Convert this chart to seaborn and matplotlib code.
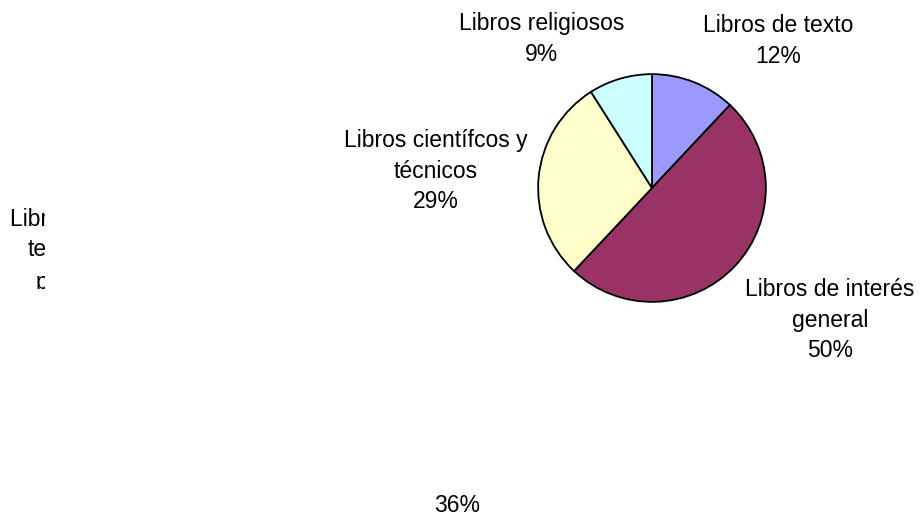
import matplotlib
matplotlib.use("Agg")
import matplotlib.pyplot as plt
import seaborn as sns
from matplotlib.transforms import Bbox, TransformedBbox

# datos del gráfico
categorias = ["Libros de texto", "Libros de interés\ngeneral",
              "Libros científcos y\ntécnicos", "Libros religiosos"]
porcentajes = [12, 50, 29, 9]
colores = ["#9999FF", "#993366", "#FFFFCC", "#CCFFFF"]

# posiciones de las etiquetas (px, origen arriba a la izquierda)
pos_etiquetas = [(778, 41), (830, 320), (436, 171), (542, 39)]

W, H = 924, 518

sns.set_theme(style="white")
plt.rcParams["font.family"] = ["Liberation Sans", "DejaVu Sans"]

fig = plt.figure(figsize=(W / 100, H / 100), dpi=100)
fig.patch.set_facecolor("white")


def fx(x):
    return x / W


def fy(y):
    return 1 - y / H


# pastel: centro (652, 188), radio 115 px
cx, cy, r = 652, 188, 115
ax = fig.add_axes([fx(cx - r), fy(cy + r), 2 * r / W, 2 * r / H])
ax.pie(porcentajes, colors=colores, startangle=90, counterclock=False,
       wedgeprops=dict(edgecolor="black", linewidth=1.3))
ax.set_xlim(-1.01, 1.01)
ax.set_ylim(-1.01, 1.01)
ax.set_aspect("equal")
ax.axis("off")

fs = 16.5
for cat, pct, (x, y) in zip(categorias, porcentajes, pos_etiquetas):
    fig.text(fx(x), fy(y), f"{cat}\n{pct}%", ha="center", va="center",
             fontsize=fs, color="black", linespacing=1.4)

# restos recortados de otro gráfico
clip_izq = TransformedBbox(Bbox([[0, fy(289)], [fx(45), 1]]), fig.transFigure)
for txt, x, y in [("Libros de", 10, 220), ("texto", 28, 250), ("para", 36, 282)]:
    t = fig.text(fx(x), fy(y), txt, ha="left", va="center", fontsize=fs,
                 color="black")
    t.set_clip_box(clip_izq)
    t.set_clip_on(True)

fig.text(fx(457), fy(505), "36%", ha="center", va="center", fontsize=fs,
         color="black")

fig.savefig("out.png", dpi=100, facecolor="white")
